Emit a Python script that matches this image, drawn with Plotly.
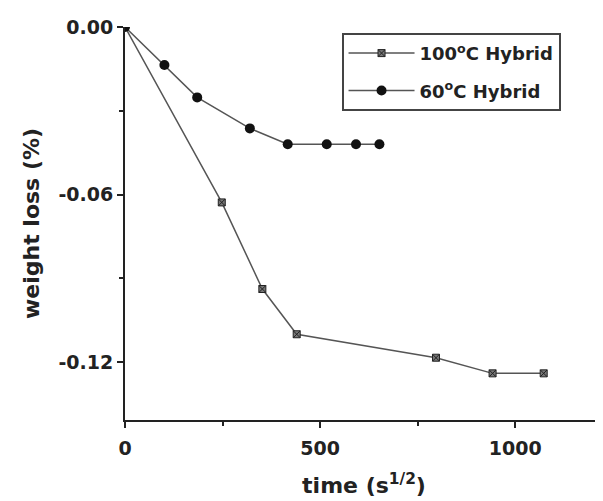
import plotly.graph_objects as go

time_100 = [0, 248, 352, 440, 797, 942, 1073]
loss_100 = [0.0, -0.0628, -0.0938, -0.1100, -0.1184, -0.1240, -0.1240]
time_60 = [0, 101, 185, 320, 417, 517, 592, 652]
loss_60 = [0.0, -0.0136, -0.0252, -0.0363, -0.0420, -0.0420, -0.0420, -0.0420]

x_ticks = [0, 500, 1000]
y_ticks = [0.0, -0.06, -0.12]
y_labels = ["0.00", "-0.06", "-0.12"]

FONT = "DejaVu Sans, sans-serif"

fig = go.Figure()
fig.add_trace(go.Scatter(
    x=time_100, y=loss_100, mode="lines+markers", name="100<sup>o</sup>C Hybrid",
    legendgroup="a",
    line=dict(color="#555555", width=1.5),
    marker=dict(symbol="square-x", size=7, color="#777777",
                line=dict(color="#222222", width=1)),
))
fig.add_trace(go.Scatter(
    x=time_60, y=loss_60, mode="lines+markers", name="60<sup>o</sup>C Hybrid",
    legendgroup="b",
    line=dict(color="#555555", width=1.5),
    marker=dict(symbol="circle", size=10, color="#111111"),
))

# page body has an 8px margin, so the figure is sized/offset to compensate
fig.update_layout(
    width=595, height=493,
    margin=dict(l=117, r=0, t=19, b=81),
    paper_bgcolor="white", plot_bgcolor="white",
    font=dict(family=FONT, color="#222222", size=18, weight="bold"),
    showlegend=True,
    legend=dict(x=0.453, y=0.985, xanchor="left", yanchor="top",
                bordercolor="#444444", borderwidth=2, bgcolor="white",
                font=dict(size=18, family=FONT, weight="bold"),
                tracegroupgap=11, itemwidth=66),
    xaxis=dict(range=[0, 1225], tickvals=x_ticks, showgrid=False, zeroline=False,
               showline=True, linecolor="#222222", linewidth=2,
               ticks="outside", ticklen=6, tickwidth=2, tickcolor="#222222",
               ticklabelstandoff=4,
               minor=dict(tickvals=[250, 750], ticks="outside", ticklen=4, tickwidth=2, tickcolor="#222222"),
               title=dict(text="time (s<sup>1/2</sup>)", font=dict(size=22, family=FONT, weight="bold"), standoff=20),
               tickfont=dict(size=19, family=FONT, weight="bold")),
    yaxis=dict(range=[-0.1407, 0.0], tickvals=y_ticks, ticktext=y_labels, showgrid=False, zeroline=False,
               showline=True, linecolor="#222222", linewidth=2,
               ticks="outside", ticklen=6, tickwidth=2, tickcolor="#222222",
               minor=dict(tickvals=[-0.03, -0.09], ticks="outside", ticklen=4, tickwidth=2, tickcolor="#222222"),
               title=dict(text="weight loss (%)", font=dict(size=22, family=FONT, weight="bold"), standoff=13),
               tickfont=dict(size=19, family=FONT, weight="bold")),
)

fig.write_html("out.html")
